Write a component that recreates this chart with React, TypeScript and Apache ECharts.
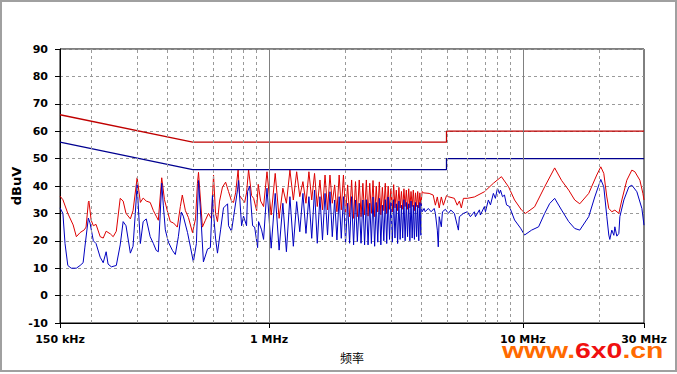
import React, { useEffect, useRef } from "react";
import * as echarts from "echarts";

// Limit lines (frequency MHz, dBuV)
const limitQP: number[][] = [[0.15, 66], [0.5, 56], [5, 56], [5, 60], [30, 60]];
const limitAV: number[][] = [[0.15, 56], [0.5, 46], [5, 46], [5, 50], [30, 50]];

// Measured peak trace (red), 150 kHz - 0.95 MHz
const redLow: number[][] = [
  [0.150, 36.3], [0.154, 35], [0.161, 30], [0.169, 25.8], [0.174, 21.5], [0.180, 23], [0.187, 24], [0.190, 25],
  [0.194, 34], [0.195, 34.5], [0.199, 27.5], [0.203, 25.5], [0.208, 26], [0.216, 21.5], [0.222, 21], [0.228, 23.5],
  [0.237, 22.5], [0.243, 21.5], [0.250, 23.5], [0.259, 35.5], [0.266, 34.5], [0.273, 30], [0.284, 28], [0.291, 31],
  [0.302, 43], [0.311, 34], [0.319, 35.6], [0.328, 34.5], [0.340, 34], [0.350, 31], [0.359, 29], [0.366, 27.5],
  [0.3775, 43], [0.387, 35], [0.397, 31], [0.408, 27], [0.420, 26.5], [0.435, 25], [0.447, 32.5], [0.455, 36.7],
  [0.468, 31], [0.481, 28.5], [0.499, 23], [0.513, 28], [0.522, 41], [0.527, 45], [0.546, 25], [0.561, 27.5],
  [0.577, 30], [0.593, 28], [0.604, 44], [0.615, 30], [0.626, 27], [0.638, 34.5], [0.655, 39.6], [0.674, 41.4],
  [0.692, 38], [0.711, 34.5], [0.724, 34], [0.738, 37.5], [0.755, 46], [0.765, 36.5], [0.786, 35], [0.801, 34],
  [0.815, 37.5], [0.830, 46], [0.853, 36.5], [0.869, 35.5], [0.893, 31], [0.906, 40.6], [0.926, 34.5], [0.951, 32.5],
];

// Measured average trace (blue), 150 kHz - 0.95 MHz
const blueLow: number[][] = [
  [0.150, 32], [0.154, 30], [0.157, 19], [0.161, 11], [0.166, 10], [0.174, 10], [0.180, 11], [0.185, 12],
  [0.188, 17.7], [0.194, 28.3], [0.197, 26.5], [0.203, 20], [0.208, 19], [0.216, 14], [0.222, 12], [0.228, 16],
  [0.232, 11.5], [0.239, 10.5], [0.250, 11], [0.259, 18.5], [0.266, 27], [0.273, 25.5], [0.284, 15.5], [0.291, 18],
  [0.297, 30], [0.302, 40.5], [0.311, 19], [0.319, 27], [0.328, 28], [0.340, 21.5], [0.350, 19], [0.359, 16.5],
  [0.366, 16], [0.3775, 41], [0.383, 33], [0.390, 24], [0.401, 19.5], [0.416, 16.5], [0.427, 15], [0.439, 21.5],
  [0.451, 30.5], [0.459, 29], [0.477, 23], [0.490, 17.7], [0.503, 12.3], [0.517, 19], [0.527, 42], [0.541, 25.5],
  [0.551, 12.3], [0.572, 17], [0.587, 17.5], [0.598, 36.5], [0.604, 30], [0.615, 21], [0.626, 15.5], [0.644, 24],
  [0.661, 32], [0.686, 33.5], [0.692, 25.5], [0.711, 23.5], [0.724, 28.5], [0.751, 38.6], [0.758, 42], [0.779, 25.5],
  [0.793, 29], [0.815, 25.5], [0.823, 38], [0.838, 40], [0.861, 25.5], [0.877, 25], [0.901, 17.5], [0.909, 27],
  [0.934, 24], [0.951, 20.5],
];

// Dense harmonic region 0.98 - 3.96 MHz: spike (peak) and between-spike (valley) frequencies
const peakFreqs: number[] = [
  0.981, 1.057, 1.133, 1.208, 1.284, 1.359, 1.435, 1.510, 1.586, 1.661, 1.737, 1.812, 1.888, 1.963, 2.039, 2.114,
  2.190, 2.265, 2.341, 2.416, 2.492, 2.567, 2.643, 2.718, 2.794, 2.869, 2.945, 3.020, 3.096, 3.171, 3.247, 3.322,
  3.398, 3.473, 3.549, 3.624, 3.700, 3.775, 3.851, 3.926,
];
const valleyFreqs: number[] = [
  1.019, 1.095, 1.170, 1.246, 1.321, 1.397, 1.472, 1.548, 1.623, 1.699, 1.774, 1.850, 1.925, 2.001, 2.076, 2.152,
  2.227, 2.303, 2.378, 2.454, 2.529, 2.605, 2.680, 2.756, 2.831, 2.907, 2.982, 3.058, 3.133, 3.209, 3.284, 3.360,
  3.435, 3.511, 3.586, 3.662, 3.737, 3.813, 3.888, 3.964,
];
const redPeaks: number[] = [
  45.2, 44.6, 39.2, 45.8, 45.2, 41.6, 45.2, 44.6, 42.2, 44, 44, 40.4, 44, 44, 40.4, 42.2,
  41.6, 42.2, 41, 42.2, 41, 42, 40, 41.5, 39.5, 41, 40, 39, 40.5, 38.5, 39.5, 38,
  39, 38.5, 39, 38, 38.5, 37.5, 38, 37.5,
];
const redValleys: number[] = [
  29.4, 28.2, 33.7, 34.9, 36.1, 33.7, 34.9, 32.5, 31.3, 31.3, 33.7, 30.6, 31.3, 29.4, 28.8, 28.2,
  28.8, 28.8, 29.5, 29, 30, 28.8, 30.5, 29.5, 31, 30, 31.5, 30.5, 32, 31, 32, 31.5,
  32.5, 31.5, 32, 32.5, 31, 32.5, 32, 33,
];
const bluePeaks: number[] = [
  39.2, 37.3, 33.7, 36.1, 34.3, 37.3, 36.1, 38.5, 36.1, 37.3, 37.9, 34.9, 36.1, 36.1, 33.7, 36.1,
  34.9, 33.7, 34.9, 35, 33.7, 36, 34, 35.5, 33, 35, 36, 34, 35, 33.5, 34.5, 33,
  35, 34, 33.5, 34.5, 33, 34, 33, 34,
];
const blueValleys: number[] = [
  17.3, 16.6, 16, 18, 23.3, 22.7, 20.9, 19.1, 20.3, 22.1, 21.5, 20.3, 20.9, 19.1, 19.1, 18.5,
  19.7, 19.1, 18.5, 18.5, 19, 18, 19.5, 18.5, 20, 19, 20.5, 19.5, 21, 19, 20.5, 21,
  20, 21.5, 20, 21, 20.5, 21.5, 20, 22,
];

// 4 MHz - 30 MHz
const redHigh: number[][] = [
  [4.01, 38], [4.05, 37.5], [4.27, 37.3], [4.43, 36.7], [4.52, 33], [4.60, 36], [4.68, 32], [4.77, 36],
  [4.86, 33], [5.0, 36.5], [5.08, 36.1], [5.37, 35.5], [5.51, 33], [5.62, 34.5], [5.72, 32], [5.83, 35.5],
  [6.04, 35.5], [6.44, 36], [7.05, 37.9], [7.65, 41], [8.23, 43.4], [8.78, 39.7], [9.27, 34.9], [9.88, 31.2],
  [10.24, 30], [11.12, 32.4], [12.18, 39.7], [13.34, 46.6], [14.21, 42], [15.15, 38.5], [16.0, 34.9], [16.75, 33.5],
  [18.17, 37.3], [19.54, 44], [20.27, 47], [20.83, 44.6], [21.41, 36], [21.8, 31.8], [22.4, 30.6], [23.03, 31.2],
  [23.88, 30], [24.54, 34.9], [25.67, 42.1], [26.87, 45.8], [27.62, 45.2], [28.9, 42.1], [29.7, 37.3], [30, 34.9],
];
const blueHigh: number[][] = [
  [3.97, 33.6], [4.01, 30.6], [4.08, 31.8], [4.12, 30.6], [4.24, 31.8], [4.35, 30.6], [4.47, 31.8], [4.52, 30],
  [4.60, 23.9], [4.64, 17.8], [4.68, 28.8], [4.77, 25.1], [4.82, 30.6], [4.95, 31.5], [5.08, 30], [5.2, 31.2],
  [5.37, 30], [5.51, 25.7], [5.57, 23.9], [5.62, 28.8], [5.83, 30], [6.04, 30.6], [6.21, 28.8], [6.44, 30.6],
  [6.50, 28.8], [6.74, 31.3], [6.80, 29.4], [7.05, 32.5], [7.12, 30.6], [7.31, 34.9], [7.45, 33.1], [7.65, 37.3],
  [7.79, 35.5], [7.94, 39.2], [8.08, 37.3], [8.16, 38.5], [8.31, 36.1], [8.46, 36.7], [8.62, 33.1], [8.85, 32.5],
  [9.27, 27.6], [9.79, 24.6], [10.15, 22.1], [10.82, 23.9], [11.53, 25.1], [12.18, 30], [12.75, 33.6], [13.34, 35.5],
  [14.21, 31.2], [15.15, 27], [16.0, 24.5], [16.75, 23.9], [18.17, 28.8], [19.19, 36], [20.27, 42.4], [20.83, 39.7],
  [21.41, 28.8], [21.8, 22.1], [22.0, 20.5], [22.4, 23.9], [22.82, 22], [23.03, 25.1], [23.45, 21.7], [23.88, 22.7],
  [24.1, 28.8], [24.99, 34.9], [26.15, 39.7], [26.87, 40.3], [28.12, 37.9], [29.43, 31.8], [30, 25.7],
];

// Axis ticks / grid (MHz)
const tickFreqs: number[] = [0.15, 1, 10, 30];
const minorGridFreqs: number[] = [0.2, 0.3, 0.4, 0.5, 0.6, 0.7, 0.8, 0.9, 2, 3, 4, 5, 6, 7, 8, 9, 20];
const majorGridFreqs: number[] = [1, 10];

const lg = (f: number) => Math.log10(f);
const toXY = (arr: number[][]) => arr.map(([f, v]) => [lg(f), v]);

function dense(peaksF: number[], valleysF: number[], peaks: number[], valleys: number[]) {
  const out: number[][] = [];
  for (let i = 0; i < peaksF.length; i++) {
    out.push([peaksF[i], peaks[i]]);
    out.push([valleysF[i], valleys[i]]);
  }
  return out;
}

export default function App() {
  const ref = useRef<HTMLDivElement>(null);
  useEffect(() => {
    if (!ref.current) return;
    const chart = echarts.init(ref.current, undefined, { renderer: "svg" });
    const redAll = [...redLow, ...dense(peakFreqs, valleyFreqs, redPeaks, redValleys), ...redHigh];
    const blueAll = [...blueLow, ...dense(peakFreqs, valleyFreqs, bluePeaks, blueValleys), ...blueHigh];
    const labelFont = { fontFamily: "DejaVu Sans", fontWeight: "bold" as const, fontSize: 11, color: "#000" };
    const fmt = (v: number) => {
      const f = Math.pow(10, v);
      return f < 0.999 ? Math.round(f * 1000) + " kHz" : Math.round(f) + " MHz";
    };
    chart.setOption({
      animation: false,
      backgroundColor: "#fff",
      grid: {
        left: 60, right: 33, top: 49, bottom: 51,
        containLabel: false, outerBoundsMode: "none",
        show: true, borderColor: "#000", borderWidth: 1, backgroundColor: "#fff",
      },
      xAxis: {
        type: "value",
        min: lg(0.15),
        max: lg(30),
        axisLine: { show: true, onZero: false, lineStyle: { color: "#000", width: 1 } },
        axisTick: { show: true, customValues: tickFreqs.map(lg), length: 5, lineStyle: { color: "#000" } },
        axisLabel: { ...labelFont, customValues: tickFreqs.map(lg), formatter: fmt, margin: 11, showMinLabel: true, showMaxLabel: true },
        splitLine: { show: false },
        name: "频率",
        nameLocation: "middle",
        nameGap: 28,
        nameMoveOverlap: false,
        nameTextStyle: { fontFamily: "Noto Sans CJK SC", fontSize: 12, color: "#000" },
      },
      yAxis: {
        type: "value",
        min: -10,
        max: 90,
        interval: 10,
        axisLine: { show: true, onZero: false, lineStyle: { color: "#000", width: 1 } },
        axisTick: { show: true, length: 5, lineStyle: { color: "#000" } },
        axisLabel: { ...labelFont, margin: 12 },
        splitLine: { show: true, lineStyle: { color: "#9a9a9a", type: [3, 3], width: 1 } },
        name: "dBuV",
        nameLocation: "middle",
        nameGap: 37,
        nameMoveOverlap: false,
        nameTextStyle: { fontFamily: "DejaVu Sans", fontWeight: "bold", fontSize: 13, color: "#000" },
      },
      series: [
        {
          type: "line",
          name: "grid",
          data: [],
          z: 1,
          silent: true,
          markLine: {
            silent: true,
            symbol: ["none", "none"],
            label: { show: false },
            emphasis: { disabled: true },
            lineStyle: { color: "#9a9a9a", type: [3, 3], width: 1 },
            data: [
              ...minorGridFreqs.map((f) => ({ xAxis: lg(f) })),
              ...majorGridFreqs.map((f) => ({ xAxis: lg(f), lineStyle: { color: "#808080", type: "solid", width: 1 } })),
            ],
          },
        },
        {
          type: "line",
          name: "Peak",
          data: toXY(redAll),
          showSymbol: false,
          symbol: "none",
          z: 2,
          lineStyle: { color: "#dd0000", width: 1 },
          emphasis: { disabled: true },
        },
        {
          type: "line",
          name: "Average",
          data: toXY(blueAll),
          showSymbol: false,
          symbol: "none",
          z: 3,
          lineStyle: { color: "#0000c0", width: 1 },
          emphasis: { disabled: true },
        },
        {
          type: "line",
          name: "QP limit",
          data: toXY(limitQP),
          showSymbol: false,
          symbol: "none",
          z: 4,
          lineStyle: { color: "#c00000", width: 1.3 },
          emphasis: { disabled: true },
        },
        {
          type: "line",
          name: "AV limit",
          data: toXY(limitAV),
          showSymbol: false,
          symbol: "none",
          z: 4,
          lineStyle: { color: "#000090", width: 1.3 },
          emphasis: { disabled: true },
        },
      ],
      graphic: [
        {
          type: "rect",
          silent: true,
          z: 100,
          shape: { x: 1, y: 1, width: 675, height: 370 },
          style: { fill: "none", stroke: "#a0a0a0", lineWidth: 2 },
        },
        {
          type: "text",
          silent: true,
          z: 100,
          x: 502,
          y: 339,
          scaleX: 1.29,
          style: {
            text: "{a|www.}{b|6x0}{a|.cn}",
            rich: {
              a: { fill: "#ff6a00", fontSize: 22, fontWeight: "bold", fontFamily: "Liberation Sans" },
              b: { fill: "#f01010", fontSize: 22, fontWeight: "bold", fontFamily: "Liberation Sans" },
            },
          },
        },
      ],
    });
    return () => chart.dispose();
  }, []);
  return (
    <div
      ref={ref}
      style={{ position: "absolute", left: 0, top: 0, width: 677, height: 374, background: "#fff" }}
    />
  );
}
